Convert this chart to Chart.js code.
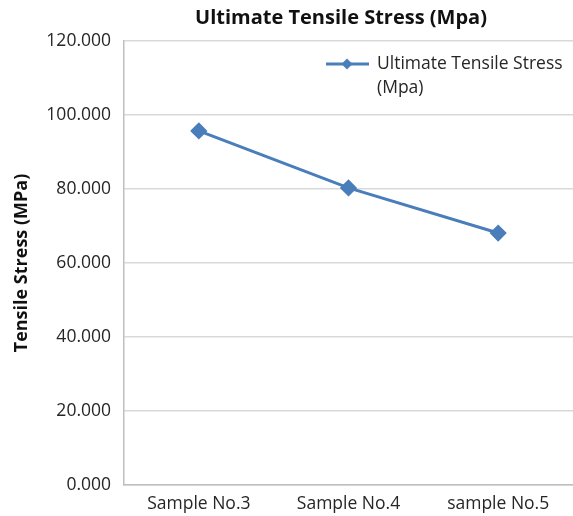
<!DOCTYPE html>
<html>
<head>
<meta charset="utf-8">
<script src="https://cdn.jsdelivr.net/npm/chart.js@4.4.1/dist/chart.umd.min.js"></script>
<style>
  html, body { margin: 0; padding: 0; background: #fff; }
  #wrap { width: 573px; height: 516px; }
</style>
</head>
<body>
<div id="wrap"><canvas id="chartCanvas"></canvas></div>
<script>
const samples = ['Sample No.3', 'Sample No.4', 'sample No.5'];
const tensileStress = [95.7, 80.3, 68.1];
const yTicks = [0, 20, 40, 60, 80, 100, 120];
const chartTitle = 'Ultimate Tensile Stress (Mpa)';
const legendLines = ['Ultimate Tensile Stress', '(Mpa)'];

const fontFamily = '"Open Sans", sans-serif';
const blue = '#4a7ebb';
const textColor = '#262626';

// title centred over the plot area, and the two-line legend inside it
const excelBits = {
  id: 'excelBits',
  afterDraw(chart) {
    const ctx = chart.ctx;
    const area = chart.chartArea;
    ctx.save();
    ctx.fillStyle = '#111';
    ctx.font = 'bold 20px ' + fontFamily;
    ctx.textAlign = 'center';
    ctx.textBaseline = 'middle';
    ctx.fillText(chartTitle, 341, 18);

    // legend
    const lx = 326, ly = 64;
    ctx.strokeStyle = blue;
    ctx.lineWidth = 3;
    ctx.beginPath();
    ctx.moveTo(lx, ly);
    ctx.lineTo(lx + 43, ly);
    ctx.stroke();
    ctx.fillStyle = blue;
    ctx.beginPath();
    ctx.moveTo(lx + 21, ly - 5.5);
    ctx.lineTo(lx + 26.5, ly);
    ctx.lineTo(lx + 21, ly + 5.5);
    ctx.lineTo(lx + 15.5, ly);
    ctx.closePath();
    ctx.fill();
    ctx.fillStyle = textColor;
    ctx.font = '17.5px ' + fontFamily;
    ctx.textAlign = 'left';
    legendLines.forEach((t, i) => ctx.fillText(t, lx + 51, ly + i * 24));
    ctx.restore();
  }
};

const chartContainer = document.getElementById('chartCanvas');

const myChart = new Chart(chartContainer, {
  type: 'line',
  data: {
    labels: samples,
    datasets: [{
      label: chartTitle,
      data: tensileStress,
      borderColor: blue,
      backgroundColor: blue,
      borderWidth: 3,
      pointStyle: 'rectRot',
      pointRadius: 6.5,
      pointHoverRadius: 6.5,
      tension: 0,
    }],
  },
  options: {
    responsive: true,
    maintainAspectRatio: false,
    animation: false,
    layout: { autoPadding: false, padding: { top: 41, right: -2, left: 0, bottom: 0 } },
    plugins: {
      legend: { display: false },
      title: { display: false },
      tooltip: { enabled: false },
    },
    scales: {
      x: {
        offset: true,
        grid: { display: false, drawTicks: false },
        border: { color: '#bfbfbf', width: 1.5 },
        ticks: {
          color: textColor,
          font: { family: fontFamily, size: 17.5 },
          padding: 9,
          maxRotation: 0,
        },
        afterFit: (scale) => {
          scale.height = 31;
          scale.paddingLeft = 0;
          scale.paddingRight = 0;
        },
      },
      y: {
        min: 0,
        max: 120,
        afterBuildTicks: (scale) => { scale.ticks = yTicks.map(v => ({ value: v })); },
        grid: { color: '#d9d9d9', lineWidth: 1.5, drawTicks: false },
        border: { color: '#bfbfbf', width: 1.5 },
        ticks: {
          color: textColor,
          font: { family: fontFamily, size: 17.5 },
          padding: 13,
          callback: (v) => v.toFixed(3),
        },
        title: {
          display: true,
          text: 'Tensile Stress (MPa)',
          color: '#111',
          font: { family: fontFamily, size: 18, weight: 'bold' },
          padding: { top: 11, bottom: 0 },
        },
        afterFit: (scale) => { scale.width = 124; },
      },
    },
  },
  plugins: [excelBits],
});
</script>
</body>
</html>
